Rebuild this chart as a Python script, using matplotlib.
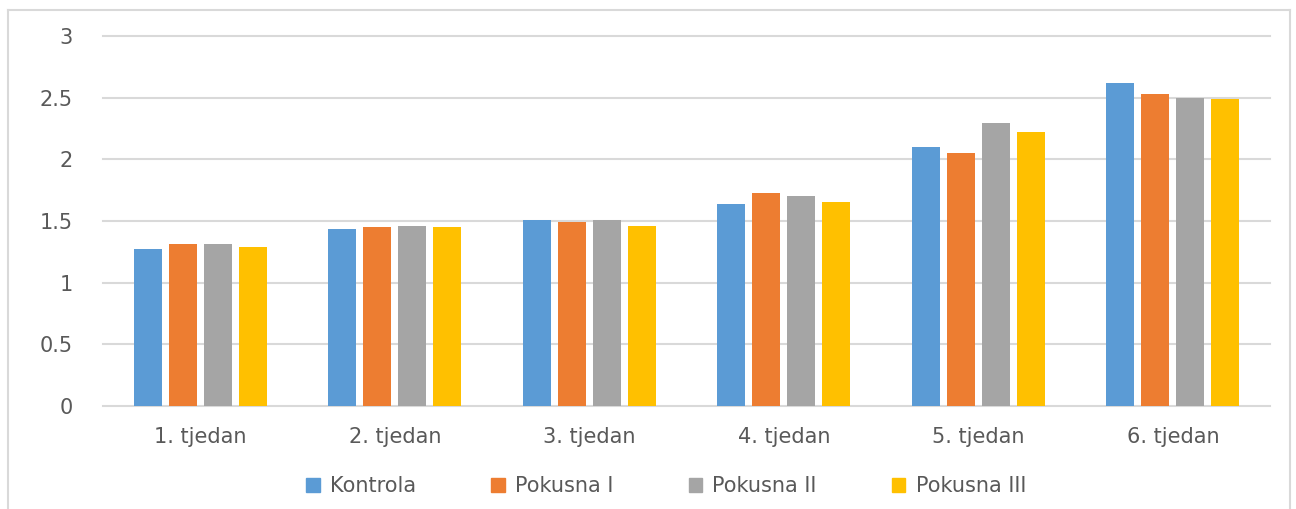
#!/usr/bin/env python

import numpy as np
import matplotlib.pyplot as plt
from matplotlib.lines import Line2D

weeks = ['1. tjedan', '2. tjedan', '3. tjedan', '4. tjedan', '5. tjedan', '6. tjedan']
series_names = ['Kontrola', 'Pokusna I', 'Pokusna II', 'Pokusna III']
kontrola = [1.27, 1.435, 1.51, 1.64, 2.10, 2.62]
pokusna_1 = [1.31, 1.45, 1.49, 1.73, 2.05, 2.53]
pokusna_2 = [1.31, 1.46, 1.51, 1.70, 2.295, 2.50]
pokusna_3 = [1.285, 1.45, 1.46, 1.65, 2.22, 2.49]
y_ticks = [0, 0.5, 1, 1.5, 2, 2.5, 3]
colors = ['#5b9bd5', '#ed7d31', '#a5a5a5', '#ffc000']

plt.rcParams['font.family'] = ['DejaVu Sans']
txt = '#595959'

fig = plt.figure(figsize=(12.96, 5.09), dpi=100)
ax = fig.add_axes([0.0795, 0.2024, 0.9005, 0.7269])

x = np.arange(len(weeks))
step = 0.18
for i, (vals, name) in enumerate(zip([kontrola, pokusna_1, pokusna_2, pokusna_3], series_names)):
	ax.bar(x + (i - 1.5) * step, vals, width=0.145, color=colors[i], label=name, zorder=3)

ax.set_xlim(-0.5, len(weeks) - 0.5)
ax.set_ylim(0, 3)
ax.set_yticks(y_ticks)
ax.set_yticklabels(['%g' % v for v in y_ticks])
ax.set_xticks(x)
ax.set_xticklabels(weeks)
ax.tick_params(axis='both', length=0, labelsize=15, colors=txt)
ax.tick_params(axis='y', pad=22)
ax.tick_params(axis='x', pad=15)
# gridlines drawn by hand so the top one is not clipped
for v in y_ticks:
	ax.axhline(v, color='#d9d9d9', linewidth=1.5, zorder=0, clip_on=False)
for s in ax.spines.values():
	s.set_visible(False)

handles = [plt.Rectangle((0, 0), 1, 1, color=c) for c in colors]
fig.legend(handles, series_names, loc='center', bbox_to_anchor=(0.514, 0.045), ncol=4,
	frameon=False, fontsize=15, labelcolor=txt, handlelength=0.65, handleheight=0.65,
	handletextpad=0.5, columnspacing=3.6)

# outer chart frame
fig.add_artist(Line2D([8/1296, 8/1296], [0, 1 - 10/509], transform=fig.transFigure, color='#d9d9d9', lw=1.5))
fig.add_artist(Line2D([8/1296, 1290/1296], [1 - 10/509, 1 - 10/509], transform=fig.transFigure, color='#d9d9d9', lw=1.5))
fig.add_artist(Line2D([1290/1296, 1290/1296], [0, 1 - 10/509], transform=fig.transFigure, color='#d9d9d9', lw=1.5))

plt.savefig('out.png', dpi=100)
